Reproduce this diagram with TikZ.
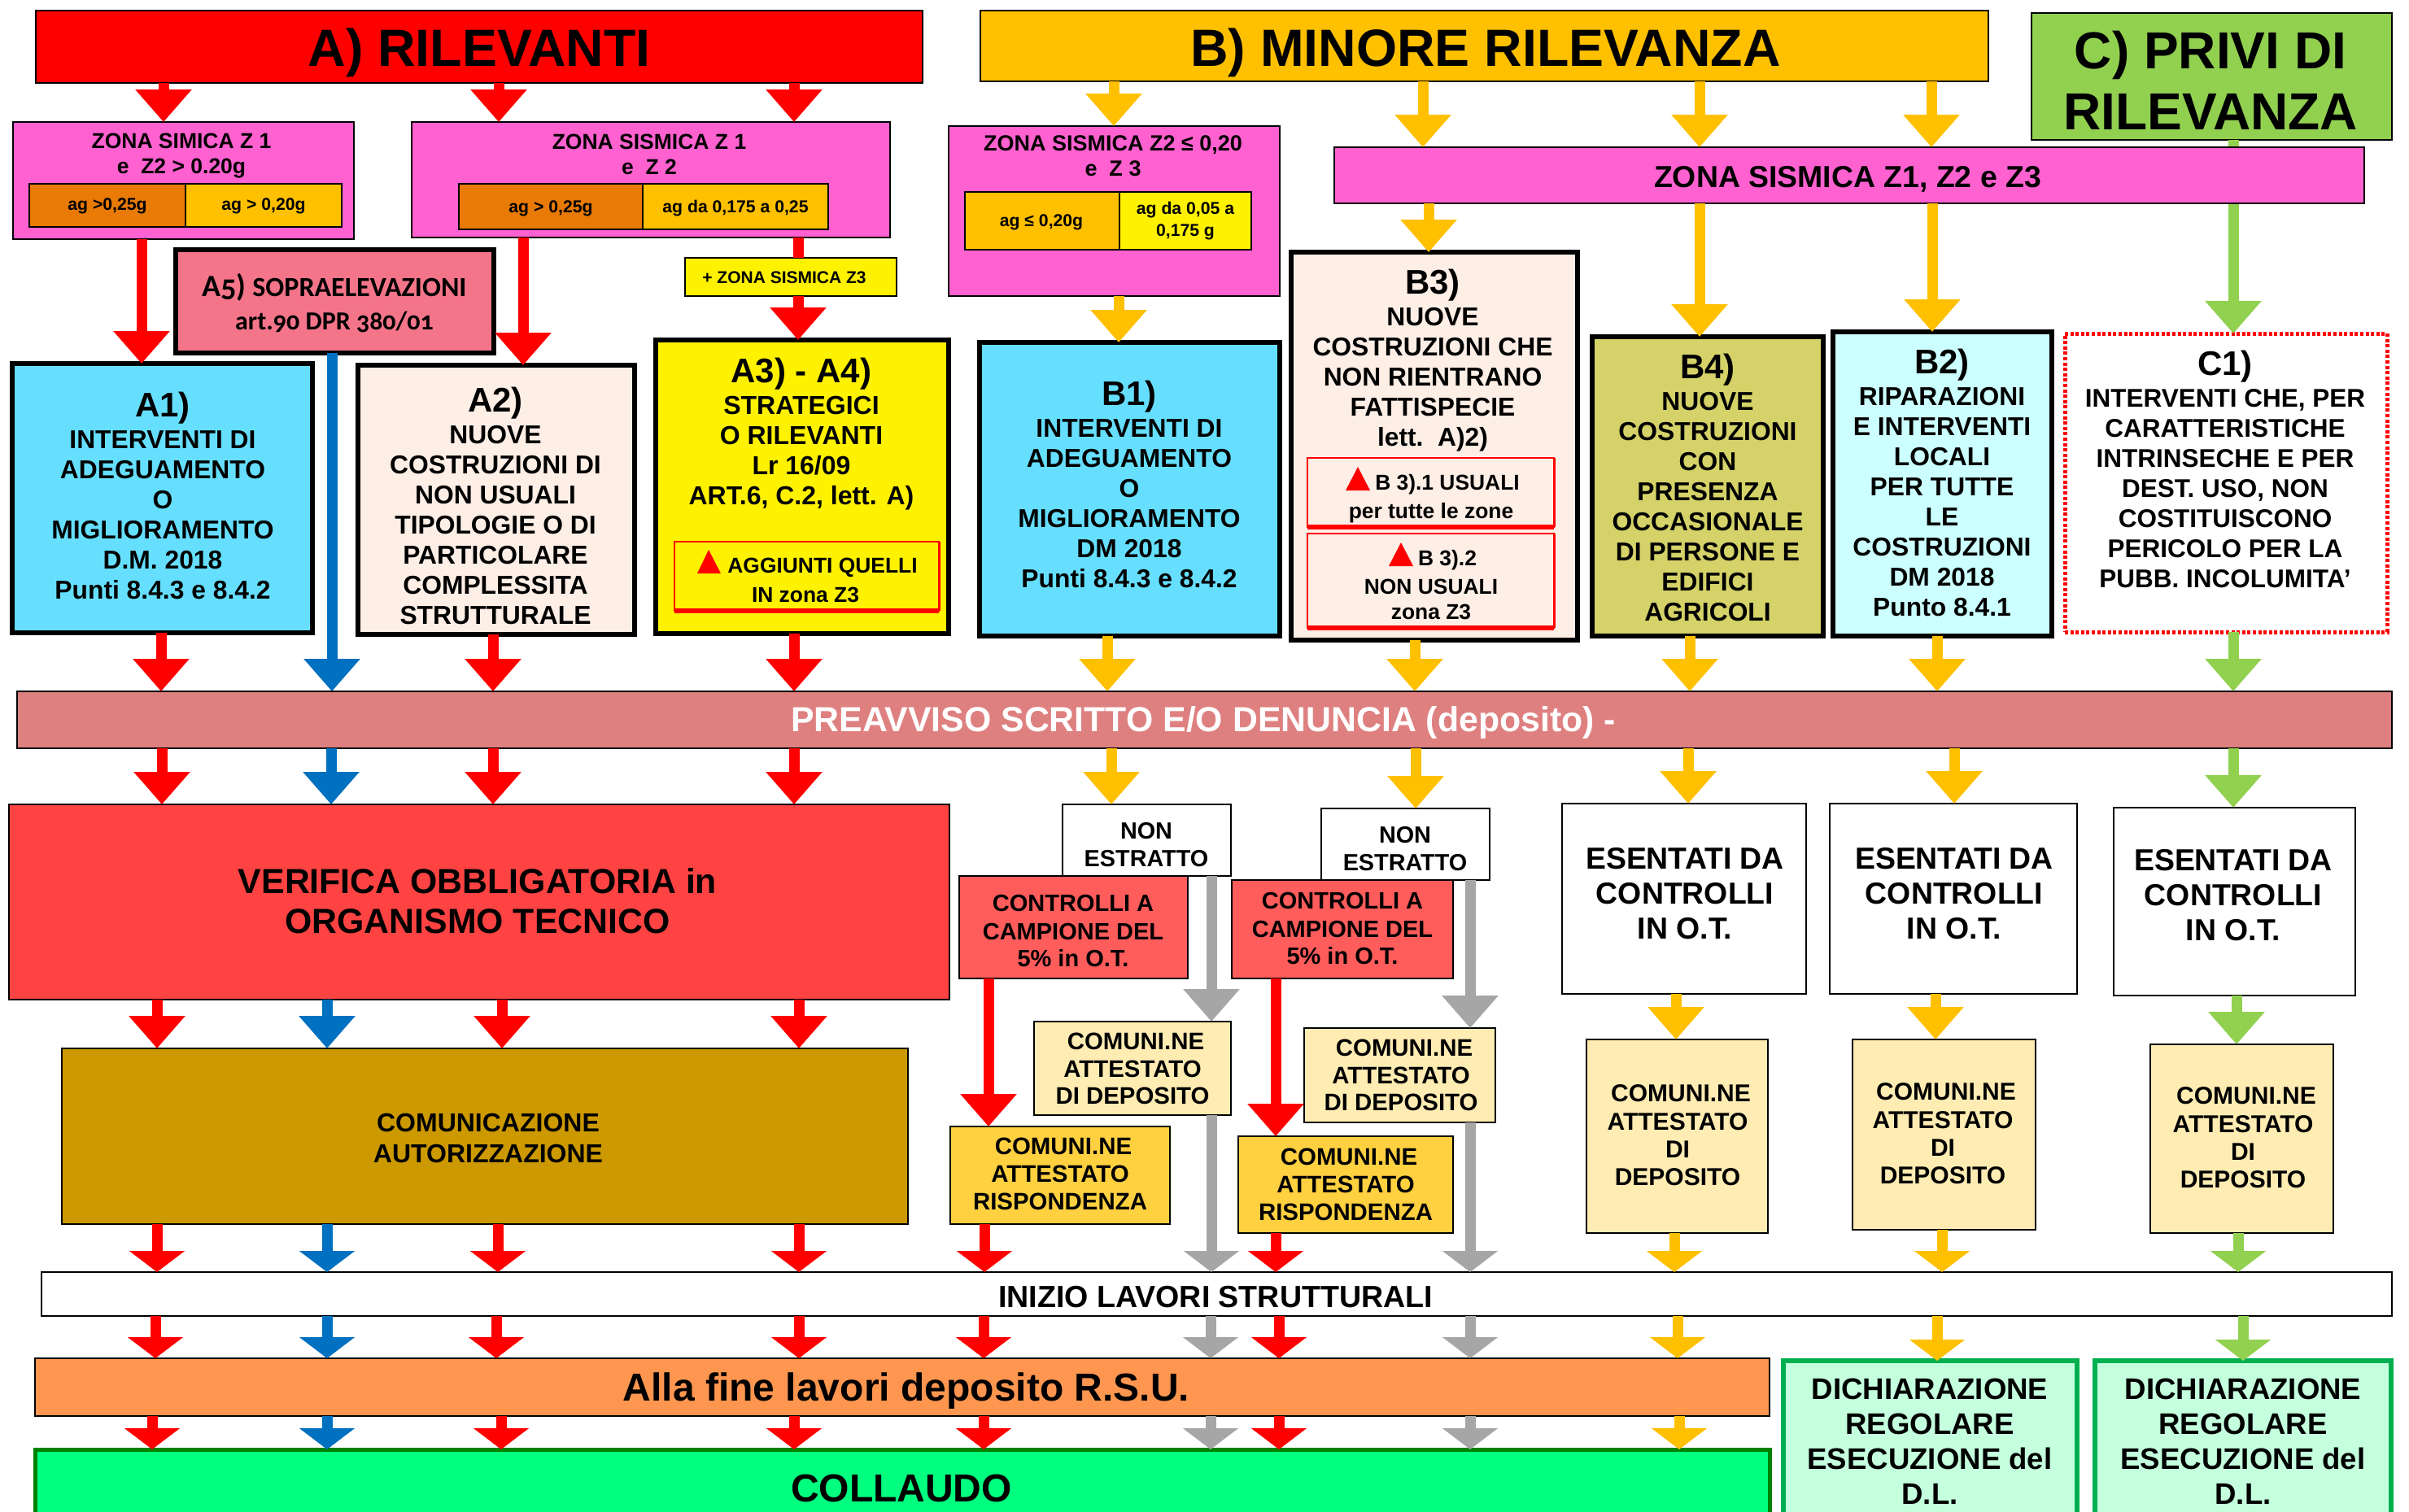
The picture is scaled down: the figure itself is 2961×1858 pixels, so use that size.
\documentclass[tikz,border=0pt]{standalone}
\usepackage{fontspec}
\setmainfont{Liberation Sans}
\newfontfamily\cfont[Numbers=OldStyle]{Carlito}
\usetikzlibrary{fit,arrows.meta}
\definecolor{cPink}{HTML}{FF61D0}
\definecolor{cGold}{HTML}{FFC000}
\definecolor{cOr}{HTML}{E87A05}
\definecolor{cGreen}{HTML}{92D050}
\definecolor{cSky}{HTML}{66DFFF}
\definecolor{cCream}{HTML}{FDEEE6}
\definecolor{cRose}{HTML}{F4758A}
\definecolor{cVer}{HTML}{FF4343}
\definecolor{cCtl}{HTML}{FF5C5C}
\definecolor{cOcra}{HTML}{CC9900}
\definecolor{cAtt}{HTML}{FFECB3}
\definecolor{cRis}{HTML}{FFD040}
\definecolor{cOliva}{HTML}{D4D268}
\definecolor{cAcq}{HTML}{CCFFFF}
\definecolor{cPre}{HTML}{DF8080}
\definecolor{cArn}{HTML}{FF9650}
\definecolor{cCol}{HTML}{00FF7F}
\definecolor{cDich}{HTML}{C4FFDE}
\definecolor{cDGr}{HTML}{00B050}
\definecolor{cDk}{HTML}{008000}
\definecolor{cBlue}{HTML}{0070C0}
\definecolor{cGray}{HTML}{A6A6A6}
\tikzset{
  box/.style={draw=black,line width=1pt,inner sep=0pt,outer sep=0pt},
  thick box/.style={draw=black,line width=3pt,inner sep=0pt,outer sep=0pt},
  red box/.style={draw=red,line width=1pt,inner sep=0pt,outer sep=0pt},
  txt/.style={align=center,inner sep=0pt,text=black},
  ar/.style={-{Triangle[length=20pt,width=33.5pt]},line width=6.5pt},
  sh/.style={-{Triangle[length=13pt,width=33.5pt]},line width=6.5pt},
}
\newcommand\bx[6]{\node[#2,fit={(#3,#4) (#5,#6)}] (#1) {};}
\newcommand\tx[6]{\node[txt,font=\bfseries\fontsize{#4}{#5}\selectfont] (#1) at (#2,#3) {#6};}
\newcommand\hd[1]{{\fontsize{21}{21}\selectfont #1}}
\newcommand\arr[4]{\draw[#1] (#2.south -| #4,0) -- (#3.north -| #4,0);}
\newcommand\cmn{\hspace*{4pt}COMUNI.NE}
\begin{document}
\begin{tikzpicture}[x=0.5pt,y=-0.5pt]
\useasboundingbox (0,0) rectangle (2961,1858);
\fill[white] (0,0) rectangle (2961,1858);
\clip (0,0) rectangle (2961,1858);
% headers
\bx{hA}{box,fill=red}{44}{13}{1134}{102}
\tx{hAt}{589}{65}{32.2}{36}{A) RILEVANTI}
\bx{hB}{box,fill=cGold}{1205}{13}{2444}{100}
\tx{hBt}{1826}{65}{32.2}{36}{B) MINORE RILEVANZA}
\bx{hC}{box,fill=cGreen}{2497}{16}{2940}{172}
\tx{hCt}{2717}{99}{32}{37.5}{C) PRIVI DI\\RILEVANZA}
% zones
\bx{zA1}{box,fill=cPink}{16}{150}{435}{294}
\tx{zA1t}{223}{192}{13.25}{15.5}{ZONA SIMICA Z 1\\e\ \ Z2 > 0.20g}
\bx{zA1a}{box,fill=cOr}{36}{226}{228}{279}
\tx{zA1at}{132}{253}{10.6}{12}{ag >0,25g}
\bx{zA1b}{box,fill=cGold}{228}{226}{420}{279}
\tx{zA1bt}{324}{253}{10.6}{12}{ag > 0,20g}
\bx{zA2}{box,fill=cPink}{506}{150}{1094}{292}
\tx{zA2t}{798}{190}{13.25}{15.5}{ZONA SISMICA Z 1\\e\ \ Z 2}
\bx{zA2a}{box,fill=cOr}{564}{226}{790}{282}
\tx{zA2at}{677}{256}{10.6}{12}{ag > 0,25g}
\bx{zA2b}{box,fill=cGold}{790}{226}{1018}{282}
\tx{zA2bt}{904}{256}{10.6}{12}{ag da 0,175 a 0,25}
\bx{zA3}{box,fill=yellow}{842}{317}{1102}{364}
\tx{zA3t}{964}{341}{10.5}{12}{+ ZONA SISMICA Z3}
\bx{zB}{box,fill=cPink}{1166}{155}{1573}{364}
\tx{zBt}{1368}{192}{13.5}{15.5}{ZONA SISMICA Z2 ≤ 0,20\\e\ \ Z 3}
\bx{zBa}{box,fill=cGold}{1186}{236}{1376}{307}
\tx{zBat}{1280}{273}{10.6}{12}{ag ≤ 0,20g}
\bx{zBb}{box,fill=yellow}{1376}{236}{1538}{307}
\tx{zBbt}{1457}{272}{10.6}{13.5}{ag da 0,05 a\\0,175 g}
% C1 first, arrow under the zone band
\bx{C1}{draw=red,line width=2.5pt,dash pattern=on 2pt off 1.3pt,inner sep=0pt,outer sep=0pt,fill=white}{2538}{410}{2934}{777}
\tx{C1t}{2735}{577}{15.75}{18.5}{\hd{C1)}\\[1pt]INTERVENTI CHE, PER\\CARATTERISTICHE\\INTRINSECHE E PER\\DEST. USO, NON\\COSTITUISCONO\\PERICOLO PER LA\\PUBB. INCOLUMITA’}
\arr{ar,cGreen}{hC}{C1}{2745}
\bx{zZ}{box,fill=cPink}{1640}{181}{2906}{250}
\tx{zZt}{2271}{220}{18.7}{22}{ZONA SISMICA Z1, Z2 e Z3}
% A5
\bx{A5}{thick box,fill=cRose}{216}{307}{607}{434}
\node[txt,font=\cfont\bfseries\fontsize{17}{20.5}\selectfont] (A5t) at (411,373) {{\fontsize{19}{20}\selectfont A5)} SOPRAELEVAZIONI\\{\fontsize{16}{20}\selectfont art.90 DPR 380/01}};
% types A
\bx{A1}{thick box,fill=cSky}{15}{447}{384}{778}
\tx{A1t}{200}{609}{15.9}{18.5}{\hd{A1)}\\[1pt]INTERVENTI DI\\ADEGUAMENTO\\O\\MIGLIORAMENTO\\D.M. 2018\\Punti 8.4.3 e 8.4.2}
\bx{A2}{thick box,fill=cCream}{440}{449}{780}{780}
\tx{A2t}{609}{622}{15.9}{18.5}{\hd{A2)}\\[1pt]NUOVE\\COSTRUZIONI DI\\NON USUALI\\TIPOLOGIE O DI\\PARTICOLARE\\COMPLESSITA\\STRUTTURALE}
\bx{A3}{thick box,fill=yellow}{806}{418}{1166}{779}
\tx{A3t}{985}{534}{16}{18.5}{\hd{A3) - A4)}\\[1pt]STRATEGICI\\O RILEVANTI\\Lr 16/09\\ART.6, C.2, lett. A)}
\bx{Ag}{red box}{829}{666}{1154}{751}
\draw[red,line width=3pt] (Ag.south west) -- (Ag.south east);
\draw[red,line width=1.5pt] (Ag.south east) -- (Ag.north east);
\fill[red] (857,705) -- (871,676) -- (886,705) -- cycle;
\tx{Agt1}{1011}{698}{13.2}{15}{AGGIUNTI QUELLI}
\tx{Agt2}{990}{731}{13.2}{15}{IN zona Z3}
% types B
\bx{B1}{thick box,fill=cSky}{1204}{421}{1573}{782}
\tx{B1t}{1388}{595}{15.9}{18.5}{\hd{B1)}\\[1pt]INTERVENTI DI\\ADEGUAMENTO\\O\\MIGLIORAMENTO\\DM 2018\\Punti 8.4.3 e 8.4.2}
\bx{B3}{thick box,fill=cCream}{1587}{310}{1939}{787}
\tx{B3t}{1761}{443}{15.9}{18.5}{\hd{B3)}\\[1pt]NUOVE\\COSTRUZIONI CHE\\NON RIENTRANO\\FATTISPECIE\\lett.\ \ A)2)}
\bx{B3a}{red box}{1607}{563}{1910}{648}
\draw[red,line width=3pt] (B3a.south west) -- (B3a.south east);
\draw[red,line width=1.5pt] (B3a.south east) -- (B3a.north east);
\fill[red] (1654,603) -- (1669,574) -- (1684,603) -- cycle;
\tx{B3at1}{1779}{596}{13.2}{15}{B 3).1 USUALI}
\tx{B3at2}{1759}{631}{13.2}{15}{per tutte le zone}
\bx{B3b}{red box}{1607}{656}{1910}{772}
\draw[red,line width=3pt] (B3b.south west) -- (B3b.south east);
\draw[red,line width=1.5pt] (B3b.south east) -- (B3b.north east);
\fill[red] (1707,696) -- (1722,667) -- (1737,696) -- cycle;
\tx{B3bt1}{1779}{689}{13.2}{15}{B 3).2}
\tx{B3bt2}{1759}{737}{13.2}{15.5}{NON USUALI\\zona Z3}
\bx{B4}{thick box,fill=cOliva}{1957}{414}{2241}{782}
\tx{B4t}{2099}{599}{15.9}{18.5}{\hd{B4)}\\[1pt]NUOVE\\COSTRUZIONI\\CON\\PRESENZA\\OCCASIONALE\\DI PERSONE E\\EDIFICI\\AGRICOLI}
\bx{B2}{thick box,fill=cAcq}{2253}{408}{2522}{782}
\tx{B2t}{2387}{593}{15.9}{18.5}{\hd{B2)}\\[1pt]RIPARAZIONI\\E INTERVENTI\\LOCALI\\PER TUTTE\\LE\\COSTRUZIONI\\DM 2018\\Punto 8.4.1}
% band
\bx{pre}{box,fill=cPre}{21}{850}{2940}{920}
\node[txt,text=white,font=\bfseries\fontsize{21.4}{24}\selectfont] (pret) at (1479,888) {PREAVVISO SCRITTO E/O DENUNCIA (deposito) -};
% checks
\bx{ver}{box,fill=cVer}{11}{989}{1167}{1229}
\tx{vert}{587}{1108}{21.4}{24.5}{VERIFICA OBBLIGATORIA in\\ORGANISMO TECNICO}
\bx{non1}{box,fill=white}{1306}{989}{1513}{1077}
\tx{non1t}{1409}{1039}{14.4}{17}{NON\\ESTRATTO}
\bx{non2}{box,fill=white}{1624}{994}{1831}{1082}
\tx{non2t}{1727}{1044}{14.4}{17}{NON\\ESTRATTO}
\bx{ctl1}{box,fill=cCtl}{1179}{1077}{1460}{1203}
\tx{ctl1t}{1319}{1145}{14.5}{17}{CONTROLLI A\\CAMPIONE DEL\\5\% in O.T.}
\bx{ctl2}{box,fill=cCtl}{1514}{1082}{1786}{1203}
\tx{ctl2t}{1650}{1142}{14.5}{17}{CONTROLLI A\\CAMPIONE DEL\\5\% in O.T.}
\bx{es1}{box,fill=white}{1920}{988}{2220}{1222}
\tx{es1t}{2071}{1099}{18.7}{21.5}{ESENTATI DA\\CONTROLLI\\IN O.T.}
\bx{es2}{box,fill=white}{2249}{988}{2553}{1222}
\tx{es2t}{2402}{1099}{18.7}{21.5}{ESENTATI DA\\CONTROLLI\\IN O.T.}
\bx{es3}{box,fill=white}{2598}{993}{2895}{1224}
\tx{es3t}{2745}{1101}{18.7}{21.5}{ESENTATI DA\\CONTROLLI\\IN O.T.}
% communications
\bx{com}{box,fill=cOcra}{76}{1289}{1116}{1505}
\tx{comt}{600}{1399}{16}{19}{COMUNICAZIONE\\AUTORIZZAZIONE}
\bx{att1}{box,fill=cAtt}{1271}{1256}{1513}{1371}
\tx{att1t}{1392}{1314}{14.7}{16.9}{\cmn\\ATTESTATO\\DI DEPOSITO}
\bx{att2}{box,fill=cAtt}{1603}{1264}{1838}{1380}
\tx{att2t}{1722}{1322}{14.7}{16.9}{\cmn\\ATTESTATO\\DI DEPOSITO}
\bx{ris1}{box,fill=cRis}{1168}{1385}{1438}{1505}
\tx{ris1t}{1303}{1443}{14.7}{17}{\cmn\\ATTESTATO\\RISPONDENZA}
\bx{ris2}{box,fill=cRis}{1522}{1397}{1786}{1516}
\tx{ris2t}{1654}{1456}{14.7}{17}{\cmn\\ATTESTATO\\RISPONDENZA}
\bx{dep1}{box,fill=cAtt}{1950}{1278}{2173}{1516}
\tx{dep1t}{2062}{1396}{15}{17.2}{\cmn\\ATTESTATO\\DI\\DEPOSITO}
\bx{dep2}{box,fill=cAtt}{2277}{1278}{2502}{1512}
\tx{dep2t}{2388}{1394}{15}{17.2}{\cmn\\ATTESTATO\\DI\\DEPOSITO}
\bx{dep3}{box,fill=cAtt}{2643}{1284}{2868}{1516}
\tx{dep3t}{2757}{1399}{15}{17.2}{\cmn\\ATTESTATO\\DI\\DEPOSITO}
% lower bands
\bx{ini}{box,fill=white}{51}{1564}{2940}{1618}
\tx{init}{1494}{1595}{18.8}{21}{INIZIO LAVORI STRUTTURALI}
\bx{rsu}{box,fill=cArn}{43}{1670}{2175}{1741}
\tx{rsut}{1114}{1710}{24}{27}{Alla fine lavori deposito R.S.U.}
\bx{col}{draw=cDk,line width=2.5pt,inner sep=0pt,outer sep=0pt,fill=cCol}{43}{1782}{2175}{1882}
\tx{colt}{1108}{1830}{24}{27}{COLLAUDO}
\bx{di1}{draw=cDGr,line width=3pt,inner sep=0pt,outer sep=0pt,fill=cDich}{2192}{1673}{2553}{1880}
\tx{di1t}{2372}{1772}{18.3}{21.6}{DICHIARAZIONE\\REGOLARE\\ESECUZIONE del\\D.L.}
\bx{di2}{draw=cDGr,line width=3pt,inner sep=0pt,outer sep=0pt,fill=cDich}{2575}{1673}{2939}{1880}
\tx{di2t}{2757}{1772}{18.3}{21.6}{DICHIARAZIONE\\REGOLARE\\ESECUZIONE del\\D.L.}
% arrows: headers to zones
\arr{ar,red}{hA}{zA1}{201}
\arr{ar,red}{hA}{zA2}{613}
\arr{ar,red}{hA}{zA2}{976}
\arr{ar,cGold}{hB}{zB}{1369}
\arr{ar,cGold}{hB}{zZ}{1749}
\arr{ar,cGold}{hB}{zZ}{2089}
\arr{ar,cGold}{hB}{zZ}{2374}
% zones to types
\arr{ar,red}{zA1}{A1}{174}
\arr{ar,red}{zA2}{A2}{643}
\draw[line width=6.5pt,red] (zA2.south -| 981,0) -- (zA3.north -| 981,0);
\arr{ar,red}{zA3}{A3}{981}
\arr{ar,cGold}{zB}{B1}{1375}
\arr{ar,cGold}{zZ}{B3}{1756}
\arr{ar,cGold}{zZ}{B4}{2089}
\arr{ar,cGold}{zZ}{B2}{2375}
% types to band
\arr{ar,red}{A1}{pre}{198}
\arr{ar,cBlue}{A5}{pre}{408}
\arr{ar,red}{A2}{pre}{606}
\arr{ar,red}{A3}{pre}{976}
\arr{ar,cGold}{B1}{pre}{1361}
\arr{ar,cGold}{B3}{pre}{1739}
\arr{ar,cGold}{B4}{pre}{2077}
\arr{ar,cGold}{B2}{pre}{2381}
\arr{ar,cGreen}{C1}{pre}{2745}
% band to checks
\arr{ar,red}{pre}{ver}{199}
\arr{ar,cBlue}{pre}{ver}{407}
\arr{ar,red}{pre}{ver}{606}
\arr{ar,red}{pre}{ver}{976}
\arr{ar,cGold}{pre}{non1}{1366}
\arr{ar,cGold}{pre}{non2}{1740}
\arr{ar,cGold}{pre}{es1}{2075}
\arr{ar,cGold}{pre}{es2}{2402}
\arr{ar,cGreen}{pre}{es3}{2745}
% checks to communications
\arr{ar,red}{ver}{com}{193}
\arr{ar,cBlue}{ver}{com}{402}
\arr{ar,red}{ver}{com}{617}
\arr{ar,red}{ver}{com}{982}
\arr{ar,red}{ctl1}{ris1}{1215}
\arr{ar,red}{ctl2}{ris2}{1568}
\arr{ar,cGray}{non1}{att1}{1489}
\arr{ar,cGray}{non2}{att2}{1807}
\arr{ar,cGold}{es1}{dep1}{2060}
\arr{ar,cGold}{es2}{dep2}{2379}
\arr{ar,cGreen}{es3}{dep3}{2749}
% communications to start of works
\arr{sh,red}{com}{ini}{193}
\arr{sh,cBlue}{com}{ini}{402}
\arr{sh,red}{com}{ini}{612}
\arr{sh,red}{com}{ini}{982}
\arr{sh,red}{ris1}{ini}{1210}
\arr{sh,red}{ris2}{ini}{1568}
\arr{sh,cGray}{att1}{ini}{1489}
\arr{sh,cGray}{att2}{ini}{1807}
\arr{sh,cGold}{dep1}{ini}{2058}
\arr{sh,cGold}{dep2}{ini}{2387}
\arr{sh,cGreen}{dep3}{ini}{2751}
% start of works onward
\arr{sh,red}{ini}{rsu}{191}
\arr{sh,cBlue}{ini}{rsu}{402}
\arr{sh,red}{ini}{rsu}{610}
\arr{sh,red}{ini}{rsu}{982}
\arr{sh,red}{ini}{rsu}{1209}
\arr{sh,cGray}{ini}{rsu}{1488}
\arr{sh,red}{ini}{rsu}{1572}
\arr{sh,cGray}{ini}{rsu}{1807}
\arr{sh,cGold}{ini}{rsu}{2062}
\arr{sh,cGold}{ini}{di1}{2381}
\arr{sh,cGreen}{ini}{di2}{2757}
\arr{sh,red}{rsu}{col}{187}
\arr{sh,cBlue}{rsu}{col}{402}
\arr{sh,red}{rsu}{col}{616}
\arr{sh,red}{rsu}{col}{976}
\arr{sh,red}{rsu}{col}{1209}
\arr{sh,cGray}{rsu}{col}{1488}
\arr{sh,red}{rsu}{col}{1572}
\arr{sh,cGray}{rsu}{col}{1807}
\arr{sh,cGold}{rsu}{col}{2064}
\end{tikzpicture}
\end{document}
